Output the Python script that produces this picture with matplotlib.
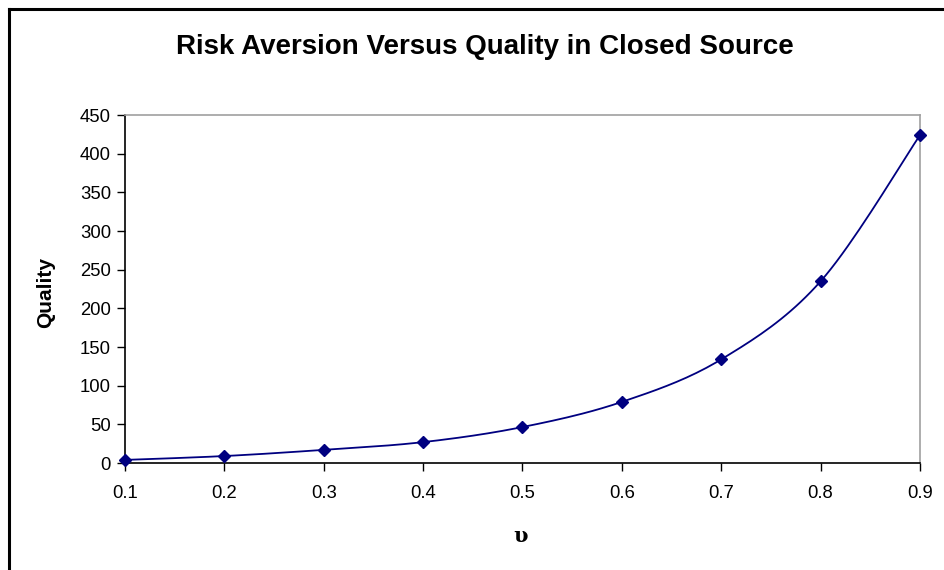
import numpy as np
import matplotlib
matplotlib.use("Agg")
import matplotlib.pyplot as plt
from matplotlib.lines import Line2D

upsilon = [0.1, 0.2, 0.3, 0.4, 0.5, 0.6, 0.7, 0.8, 0.9]
quality = [4, 9, 17, 27, 46.5, 79, 134, 235, 424]
xticks = [0.1, 0.2, 0.3, 0.4, 0.5, 0.6, 0.7, 0.8, 0.9]
yticks = [0, 50, 100, 150, 200, 250, 300, 350, 400, 450]

W, H = 945, 570
fig = plt.figure(figsize=(W / 100, H / 100), dpi=100)
plt.rcParams['font.family'] = ['Liberation Sans', 'DejaVu Sans']

# outer chart border (top + left visible)
fig.add_artist(Line2D([9 / W, 1.0], [1 - 9 / H, 1 - 9 / H], color='black', lw=2.2,
                      transform=fig.transFigure))
fig.add_artist(Line2D([9 / W, 9 / W], [0, 1 - 9 / H], color='black', lw=2.2,
                      transform=fig.transFigure))

left, right, top, bottom = 125, 920, 115, 463
ax = fig.add_axes([left / W, 1 - bottom / H, (right - left) / W, (bottom - top) / H])


def catmull(x, y, n=20):
    x = np.asarray(x, float); y = np.asarray(y, float)
    px = np.concatenate([[x[0]], x, [x[-1]]])
    py = np.concatenate([[y[0]], y, [y[-1]]])
    ox, oy = [], []
    for i in range(1, len(px) - 2):
        p0 = np.array([px[i - 1], py[i - 1]]); p1 = np.array([px[i], py[i]])
        p2 = np.array([px[i + 1], py[i + 1]]); p3 = np.array([px[i + 2], py[i + 2]])
        m1 = (p2 - p0) * 0.5
        m2 = (p3 - p1) * 0.5
        for t in np.linspace(0, 1, n, endpoint=False):
            h00 = 2 * t**3 - 3 * t**2 + 1; h10 = t**3 - 2 * t**2 + t
            h01 = -2 * t**3 + 3 * t**2; h11 = t**3 - t**2
            p = h00 * p1 + h10 * m1 + h01 * p2 + h11 * m2
            ox.append(p[0]); oy.append(p[1])
    ox.append(x[-1]); oy.append(y[-1])
    return np.array(ox), np.array(oy)


sx, sy = catmull(upsilon, quality)
ax.plot(sx, sy, color='#000080', lw=1.3, zorder=3, clip_on=False)
ax.plot(upsilon, quality, linestyle='none', marker='D', markersize=6.5,
        color='#000080', zorder=4, clip_on=False)

ax.set_xlim(0.1, 0.9)
ax.set_ylim(0, 450)
ax.set_xticks(xticks)
ax.set_xticklabels([f"{v:g}" for v in xticks])
ax.set_yticks(yticks)
ax.tick_params(axis='both', direction='out', length=6, width=1, colors='black',
               labelsize=13.3)
ax.tick_params(axis='x', pad=10)
ax.tick_params(axis='y', pad=4)

for s in ['top', 'right']:
    ax.spines[s].set_color('#a0a0a0')
    ax.spines[s].set_linewidth(1.2)
for s in ['left', 'bottom']:
    ax.spines[s].set_color('black')
    ax.spines[s].set_linewidth(1.2)

fig.text(46 / W, 1 - 293 / H, 'Quality', fontsize=15, fontweight='bold',
         rotation=90, ha='center', va='center')
fig.text(521 / W, 1 - 536 / H, 'υ', fontsize=15,
         family=['DejaVu Serif'], fontweight='bold', ha='center', va='center')
fig.text(485 / W, 1 - 47 / H, 'Risk Aversion Versus Quality in Closed Source',
         fontsize=20, fontweight='bold', ha='center', va='center')

fig.savefig('out.png', dpi=100)
